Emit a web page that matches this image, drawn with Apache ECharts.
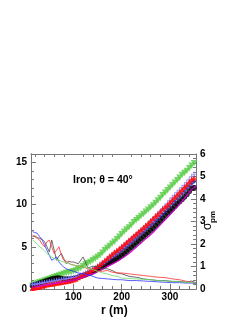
<!DOCTYPE html>
<html><head><meta charset="utf-8">
<script src="https://cdn.jsdelivr.net/npm/echarts@6/dist/echarts.min.js"></script>
<style>html,body{margin:0;padding:0;background:#fff}#c{width:247px;height:319px}</style>
</head><body><div id="c"></div>
<script>
// marker series (r grid, left-axis units)
const markerR = [15,20,25,30,35,40,45,50,55,60, 65,70,75,80,85,90,95,100,105,110, 115,120,125,130,135,140,145,150,155,160, 165,170,175,180,185,190,195,200,205,210, 215,220,225,230,235,240,245,250,255,260, 265,270,275,280,285,290,295,300,305,310, 315,320,325,330,335,340,345,350,355];
const greenTri = [0.4,0.55,0.7,0.8,0.9,1.0,1.1,1.2,1.3,1.4, 1.5,1.6,1.7,1.8,1.9,1.95,2.0,2.1,2.2,2.35, 2.5,2.7,2.9,3.05,3.2,3.4,3.6,3.8,4.0,4.3, 4.6,4.85,5.1,5.35,5.6,5.9,6.2,6.5,6.8,7.05, 7.3,7.6,7.9,8.15,8.4,8.65,8.9,9.15,9.4,9.65, 9.9,10.2,10.5,10.8,11.1,11.4,11.7,12.0,12.3,12.6, 12.9,13.2,13.5,13.75,14.0,14.3,14.6,14.9,15.1];
const redMark = [0.1,0.15,0.2,0.28,0.35,0.42,0.5,0.55,0.6,0.65, 0.7,0.75,0.8,0.85,0.9,0.95,1.0,1.1,1.2,1.35, 1.5,1.65,1.8,1.95,2.1,2.3,2.5,2.7,2.9,3.15, 3.4,3.65,3.9,4.15,4.4,4.6,4.8,5.05,5.3,5.55, 5.8,6.05,6.3,6.55,6.8,7.05,7.3,7.55,7.8,8.1, 8.4,8.65,8.9,9.2,9.5,9.75,10.0,10.3,10.6,10.9, 11.2,11.5,11.8,12.1,12.4,12.7,13.0,13.2,13.4];
const blueCross = [0.5,0.55,0.6,0.65,0.7,0.75,0.8,0.85,0.9,0.95, 1.0,1.05,1.1,1.15,1.2,1.25,1.3,1.35,1.4,1.5, 1.6,1.75,1.9,2.05,2.2,2.35,2.5,2.7,2.9,3.1, 3.3,3.55,3.8,4.0,4.2,4.45,4.7,4.95,5.2,5.45, 5.7,5.95,6.2,6.45,6.7,6.95,7.2,7.5,7.8,8.05, 8.3,8.6,8.9,9.2,9.5,9.8,10.1,10.45,10.8,11.1, 11.4,11.7,12.0,12.3,12.6,12.95,13.3,13.6,13.9];
const navyMark = [0.5,0.55,0.6,0.65,0.7,0.75,0.8,0.85,0.9,0.95, 1.0,1.05,1.1,1.15,1.2,1.25,1.3,1.35,1.4,1.5, 1.6,1.7,1.8,1.95,2.1,2.25,2.4,2.55,2.7,2.9, 3.1,3.3,3.5,3.7,3.9,4.15,4.4,4.6,4.8,5.05, 5.3,5.55,5.8,6.05,6.3,6.55,6.8,7.05,7.3,7.55, 7.8,8.05,8.3,8.6,8.9,9.2,9.5,9.8,10.1,10.4, 10.7,11.0,11.3,11.6,11.9,12.2,12.5,12.75,13.0];
const blackDot = [0.4,0.5,0.6,0.7,0.8,0.9,1.0,1.1,1.2,1.25, 1.3,1.3,1.25,1.2,1.2,1.2,1.2,1.25,1.3,1.4, 1.5,1.6,1.7,1.8,1.9,2.05,2.2,2.35,2.5,2.65, 2.8,2.95,3.1,3.25,3.4,3.6,3.8,4.0,4.2,4.45, 4.7,4.95,5.2,5.45,5.7,5.95,6.2,6.45,6.7,6.95, 7.2,7.5,7.8,8.1,8.4,8.7,9.0,9.25,9.5,9.8, 10.1,10.35,10.6,10.9,11.2,11.55,11.9,12.0,12.1];
const magentaLine = [0.2,0.25,0.3,0.35,0.4,0.45,0.5,0.55,0.6,0.65, 0.7,0.75,0.8,0.85,0.9,0.95,1.0,1.05,1.1,1.2, 1.3,1.4,1.5,1.6,1.7,1.8,1.9,2.05,2.2,2.35, 2.5,2.65,2.8,2.95,3.1,3.25,3.4,3.6,3.8,4.0, 4.2,4.45,4.7,4.95,5.2,5.45,5.7,5.95,6.2,6.45, 6.7,7.0,7.3,7.6,7.9,8.2,8.5,8.8,9.1,9.4, 9.7,10.05,10.4,10.75,11.1,11.45,11.8,12.05,12.3];
// thin line series
const lineR = [15,20,25,30,35,40,45,50,55,60,65,70,75,80,85,90,95,100,110,120,130,140,150,160,170,180,190,200,215,230,245,260,275,290,305,320,335,345,355];
const lineBlack = [6.2,6.3,6.1,6.0,5.9,5.6,5.0,4.4,5.8,4.6,3.4,3.9,4.2,3.6,3.0,3.3,3.2,3.2,3.0,3.8,2.5,2.7,2.6,2.4,2.4,2.2,1.9,1.8,1.5,1.4,1.2,1.1,1.0,1.0,0.9,0.9,0.8,0.95,0.7];
const lineRed = [6.4,6.2,6.0,5.8,5.3,5.0,5.6,5.8,5.0,4.2,4.6,5.0,4.0,3.4,3.3,3.1,2.9,2.85,2.7,2.6,2.4,2.3,2.1,2.1,2.2,2.0,1.9,1.9,1.8,1.7,1.6,1.5,1.4,1.35,1.2,1.1,0.9,0.8,0.7];
const lineBlue = [6.8,6.7,6.6,6.2,5.8,5.2,4.6,4.0,3.4,3.6,3.8,3.2,2.85,2.6,2.4,2.3,2.2,2.1,1.9,1.8,1.7,1.5,1.3,1.25,1.2,1.15,1.1,1.1,1.0,1.0,0.95,0.9,0.85,0.8,0.75,0.75,0.7,0.7,0.65];
const lineGreen = [5.8,5.6,5.3,5.0,4.8,4.5,4.2,4.0,3.8,3.6,3.5,3.4,3.3,3.2,3.1,3.0,2.9,2.85,2.7,2.55,2.5,2.3,2.1,1.9,1.8,1.6,1.5,1.3,1.25,1.2,1.15,1.1,1.0,0.95,0.9,0.85,0.8,0.75,0.7];
// ticks
const xMajor = [100,200,300];
const xMinor = [20,40,60,80,120,140,160,180,220,240,260,280,320,340];
const yMajor = [0,5,10,15];
const yMinor = [1,2,3,4,6,7,8,9,11,12,13,14,16];

const pair = (xs, ys) => xs.map((x,i)=>[x, ys[i]]);
const frame = '#777';
const lab = {color:'#000', fontFamily:'Liberation Sans', fontWeight:'bold', fontSize:10};
const X0 = 12, X1 = 354;
function xa(pos, ticks, len, labels){
  return {type:'value', position:pos, min:X0, max:X1,
    axisLine:{show:true, lineStyle:{color:frame, width:1}},
    axisTick:{show:true, inside:true, length:len, customValues:ticks, lineStyle:{color:frame}},
    axisLabel: labels ? Object.assign({show:true, margin:3, customValues:ticks}, lab) : {show:false},
    splitLine:{show:false}};
}
function ya(ticks, len, labels){
  return {type:'value', position:'left', min:0, max:16,
    axisLine:{show:true, lineStyle:{color:frame, width:1}},
    axisTick:{show:true, inside:true, length:len, customValues:ticks, lineStyle:{color:frame}},
    axisLabel: labels ? Object.assign({show:true, margin:4, customValues:ticks}, lab) : {show:false},
    splitLine:{show:false}};
}
const chart = echarts.init(document.getElementById('c'), null, {renderer:'canvas'});
const sc = (name, data, symbol, size, color, extra) => Object.assign({
  type:'scatter', name, data, symbol, symbolSize:size, itemStyle:{color}, xAxisIndex:0, yAxisIndex:0, silent:true, animation:false}, extra||{});
const ln = (name, data, color, w, z) => ({type:'line', name, data, showSymbol:false, symbol:'none', lineStyle:{color, width:w}, xAxisIndex:0, yAxisIndex:0, silent:true, animation:false, z:z||2});
chart.setOption({
  animation:false,
  grid:{left:31, right:51, top:154, bottom:30, show:false},
  xAxis:[xa('bottom', xMajor, 5, true), xa('bottom', xMinor, 3, false), xa('top', xMajor, 5, false), xa('top', xMinor, 3, false)],
  yAxis:[ya(yMajor, 5, true), ya(yMinor, 3, false),
    {type:'value', position:'right', min:0, max:6, interval:1,
     axisLine:{show:true, lineStyle:{color:frame, width:1}},
     axisTick:{show:true, inside:true, length:5, lineStyle:{color:frame}},
     minorTick:{show:true, splitNumber:5, length:3, lineStyle:{color:frame}},
     axisLabel:Object.assign({show:true, margin:4}, lab),
     splitLine:{show:false}}],
  series:[
    sc('green', pair(markerR, greenTri), 'triangle', 6.5, '#55cc44', {symbolRotate:180}),
    sc('black', pair(markerR, blackDot), 'circle', 5.5, '#000'),
    sc('navy', pair(markerR, navyMark), 'diamond', 4.5, '#1a1aa0'),
    sc('blue', pair(markerR, blueCross), 'path://M4,0H6V4H10V6H6V10H4V6H0V4H4Z', 5.5, '#8a8aff'),
    sc('red', pair(markerR, redMark), 'triangle', 5.5, '#ff0000'),
    ln('magenta', pair(markerR, magentaLine), '#cc00cc', 1.2, 3),
    ln('lblack', pair(lineR, lineBlack), '#444', 0.8, 4),
    ln('lred', pair(lineR, lineRed), '#ff3030', 0.8, 4),
    ln('lblue', pair(lineR, lineBlue), '#3030ff', 0.8, 4),
    ln('lgreen', pair(lineR, lineGreen), '#66dd66', 0.8, 4)
  ],
  graphic:[
    {type:'text', left:73, top:175, style:{text:'Iron; θ = 40°', fill:'#000', font:'bold 10.5px "Liberation Sans"'}},
    {type:'text', left:101, top:305, style:{text:'r (m)', fill:'#000', font:'bold 12px "Liberation Sans"'}},
    {type:'text', x:214, y:230, rotation:Math.PI/2, style:{text:'σ', fill:'#000', font:'12px "Liberation Sans"', textAlign:'left', textVerticalAlign:'bottom'}},
    {type:'text', x:217, y:223, rotation:Math.PI/2, style:{text:'pm', fill:'#000', font:'bold 8px "Liberation Sans"', textAlign:'left', textVerticalAlign:'bottom'}}
  ]
});
</script></body></html>
